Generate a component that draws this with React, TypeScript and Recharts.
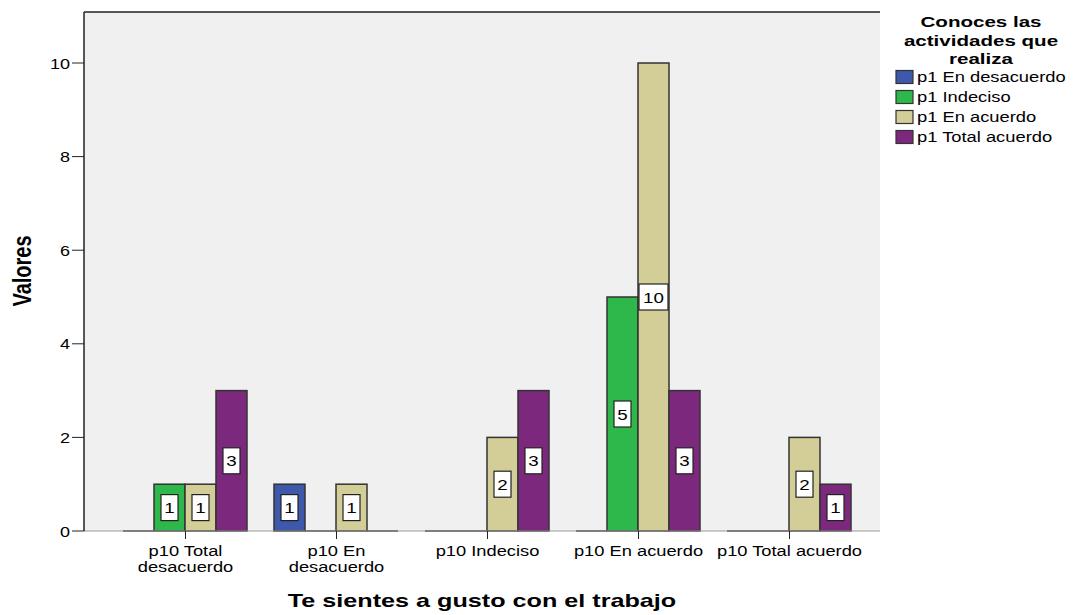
import React from "react";
import {
  BarChart,
  Bar,
  XAxis,
  YAxis,
  CartesianGrid,
  ReferenceLine,
  Legend,
  LabelList,
  Label,
} from "recharts";

const FONT = '"Liberation Sans", Arial, Helvetica, sans-serif';

// categories on the x axis ("\n" marks where the label wraps)
const categories = [
  "p10 Total\ndesacuerdo",
  "p10 En\ndesacuerdo",
  "p10 Indeciso",
  "p10 En acuerdo",
  "p10 Total acuerdo",
];

const seriesNames = ["p1 En desacuerdo", "p1 Indeciso", "p1 En acuerdo", "p1 Total acuerdo"];

const enDesacuerdo = [0, 1, 0, 0, 0];
const indeciso = [1, 0, 0, 5, 0];
const enAcuerdo = [1, 1, 2, 10, 2];
const totalAcuerdo = [3, 0, 3, 3, 1];

const yTicks = [0, 2, 4, 6, 8, 10];
const Y_MAX = 11.09;

const legendTitle = ["Conoces las", "actividades que", "realiza"];
const xTitle = "Te sientes a gusto con el trabajo";
const yTitle = "Valores";

const COLORS = ["#3e58ac", "#2eb84b", "#d3ce97", "#7c287d"];

const data = categories.map((name, i) => ({
  name,
  s0: enDesacuerdo[i],
  s1: indeciso[i],
  s2: enAcuerdo[i],
  s3: totalAcuerdo[i],
}));

// text stretched horizontally, the source picture is wider than tall
const StretchText = ({ x, y, children, anchor = "start", size = 15, weight = "normal", sx = 1.25 }: any) => (
  <text
    transform={`translate(${x},${y}) scale(${sx},1)`}
    textAnchor={anchor}
    fontSize={size}
    fontWeight={weight}
    fontFamily={FONT}
    fill="#000"
  >
    {children}
  </text>
);

const BarShape = (props: any) => {
  const x = Number(props.x);
  const y = Number(props.y);
  const width = Number(props.width);
  const height = Number(props.height);
  if (!height || Math.abs(height) < 0.5) {
    return <line x1={x} x2={x + width} y1={y} y2={y} stroke="#333" strokeWidth={1.5} />;
  }
  return <rect x={x} y={y} width={width} height={height} fill={props.fill} stroke="#333" strokeWidth={1.5} />;
};

const ValueLabel = (props: any) => {
  const { value } = props;
  if (!value) return null;
  const cx = Number(props.x) + Number(props.width) / 2;
  const cy = Number(props.y) + Number(props.height) / 2;
  const w = String(value).length > 1 ? 29 : 17;
  return (
    <g>
      <rect x={cx - w / 2} y={cy - 13} width={w} height={26} fill="#fff" stroke="#222" strokeWidth={1.2} />
      <StretchText x={cx} y={cy + 5.5} anchor="middle" size={15} sx={1.25}>
        {value}
      </StretchText>
    </g>
  );
};

const XTick = (props: any) => {
  const { x, y, payload } = props;
  const lines = String(payload.value).split("\n");
  return (
    <g>
      {lines.map((l, i) => (
        <StretchText key={i} x={x} y={y + 15 + i * 16} anchor="middle" size={15} sx={1.22}>
          {l}
        </StretchText>
      ))}
    </g>
  );
};

const YTick = (props: any) => {
  const { x, y, payload } = props;
  return (
    <StretchText x={x} y={y + 5.5} anchor="end" size={15} sx={1.2}>
      {payload.value}
    </StretchText>
  );
};

const LegendBox = (props: any) => {
  const items = [...(props.payload || [])].sort(
    (a: any, b: any) => seriesNames.indexOf(a.value) - seriesNames.indexOf(b.value)
  );
  return (
    <svg width={194} height={160} style={{ display: "block" }}>
      {legendTitle.map((t, i) => (
        <StretchText key={t} x={101} y={27 + i * 18.5} anchor="middle" size={15} weight="bold" sx={1.37}>
          {t}
        </StretchText>
      ))}
      {items.map((it: any, i: number) => (
        <g key={it.value}>
          <rect x={16} y={70.5 + i * 20} width={17} height={13} fill={it.color} stroke="#333" strokeWidth={1.2} />
          <StretchText x={37} y={82 + i * 20} size={14} sx={1.31}>
            {it.value}
          </StretchText>
        </g>
      ))}
    </svg>
  );
};

export default function App() {
  const keys = ["s0", "s1", "s2", "s3"];
  return (
    <div style={{ position: "absolute", left: 0, top: 0, background: "#fff" }}>
      <BarChart
        width={1074}
        height={615}
        data={data}
        margin={{ top: 12, right: 194, bottom: 0, left: 0 }}
        barCategoryGap={13}
        barGap={0}
      >
        <CartesianGrid fill="#f0f0f0" horizontal={false} vertical={false} />
        <ReferenceLine y={0} stroke="#999" strokeWidth={1} />
        <ReferenceLine y={Y_MAX} stroke="#222" strokeWidth={1.5} />
        <XAxis
          dataKey="name"
          padding={{ left: 26, right: 15 }}
          axisLine={false}
          tickLine={{ stroke: "#222" }}
          tickSize={8}
          tick={<XTick />}
          interval={0}
          height={84}
        >
          <Label
            content={() => (
              <StretchText x={482} y={607} anchor="middle" size={18} weight="bold" sx={1.4}>
                {xTitle}
              </StretchText>
            )}
          />
        </XAxis>
        <YAxis
          width={84}
          domain={[0, Y_MAX]}
          ticks={yTicks}
          axisLine={{ stroke: "#222", strokeWidth: 1.5 }}
          tickLine={{ stroke: "#222" }}
          tickSize={12}
          tick={<YTick />}
        >
          <Label
            content={() => (
              <text
                transform="translate(31,271) scale(1.3,1) rotate(-90)"
                textAnchor="middle"
                fontSize={20}
                fontWeight="bold"
                fontFamily={FONT}
                fill="#000"
              >
                {yTitle}
              </text>
            )}
          />
        </YAxis>
        <YAxis
          yAxisId="right"
          orientation="right"
          width={0}
          tick={false}
          tickLine={false}
          axisLine={{ stroke: "#222", strokeWidth: 1.5 }}
        />
        <Legend
          layout="horizontal"
          verticalAlign="middle"
          align="center"
          content={<LegendBox />}
          wrapperStyle={{ left: 880, top: 0, width: 194, height: 160 }}
        />
        {keys.map((k, i) => (
          <Bar
            key={k}
            dataKey={k}
            name={seriesNames[i]}
            fill={COLORS[i]}
            shape={<BarShape />}
            isAnimationActive={false}
          >
            <LabelList dataKey={k} content={<ValueLabel />} />
          </Bar>
        ))}
      </BarChart>
    </div>
  );
}
